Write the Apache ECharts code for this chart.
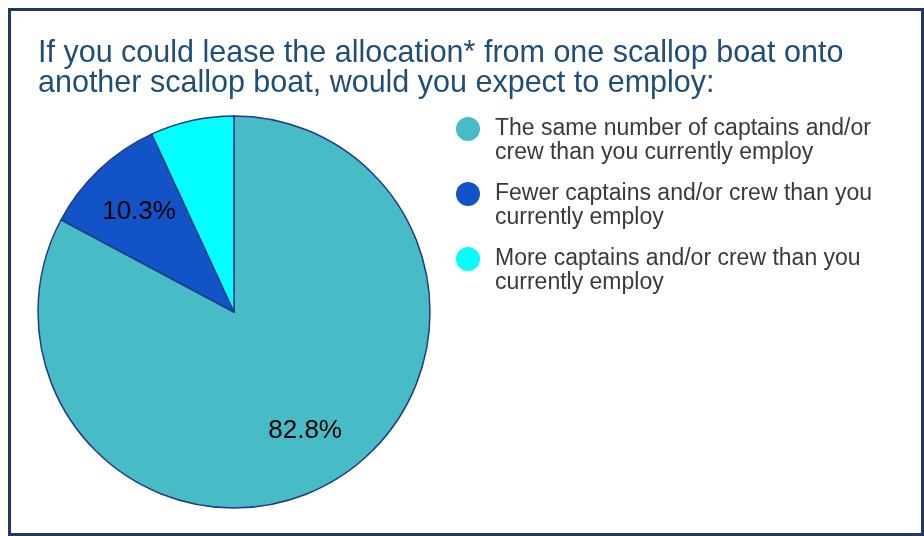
<!DOCTYPE html>
<html>
<head>
<meta charset="utf-8">
<script src="https://cdn.jsdelivr.net/npm/echarts@6/dist/echarts.min.js"></script>
<style>
  html, body { margin: 0; padding: 0; background: #ffffff; }
  #chart { width: 924px; height: 536px; }
</style>
</head>
<body>
<div id="chart"></div>
<script>
const titleText = 'If you could lease the allocation* from one scallop boat onto\nanother scallop boat, would you expect to employ:';
const categories = [
  'The same number of captains and/or crew than you currently employ',
  'Fewer captains and/or crew than you currently employ',
  'More captains and/or crew than you currently employ'
];
const values = [82.8, 10.3, 6.9];
const showLabel = [true, true, false];
const colors = ['#47BCC6', '#1254C8', '#00FFFF'];

const pieRadius = 196;
const labelShift = 0.19 * pieRadius;
const total = values.reduce((a, b) => a + b, 0);
const midAngles = [];
let acc = 0;
values.forEach(v => { midAngles.push((acc + v / 2) / total * 2 * Math.PI); acc += v; });

const chart = echarts.init(document.getElementById('chart'), null, { renderer: 'canvas' });
chart.setOption({
  backgroundColor: '#ffffff',
  animation: false,
  title: {
    text: titleText,
    left: 38,
    top: 39,
    padding: 0,
    textStyle: {
      fontFamily: 'Liberation Sans, Arial, sans-serif',
      fontSize: 30.5,
      fontWeight: 'normal',
      lineHeight: 30,
      color: '#1F4E79'
    }
  },
  legend: {
    orient: 'vertical',
    left: 456,
    top: 93,
    padding: 0,
    itemGap: -7,
    icon: 'circle',
    itemWidth: 24,
    itemHeight: 24,
    itemStyle: { borderWidth: 0 },
    data: categories,
    formatter: name => '\n' + name,
    textStyle: {
      fontFamily: 'Liberation Sans, Arial, sans-serif',
      fontSize: 23,
      lineHeight: 24,
      color: '#3A3A3A',
      width: 395,
      overflow: 'break',
      padding: [0, 0, 0, 10]
    }
  },
  graphic: [{
    type: 'rect',
    shape: { x: 9.5, y: 9.5, width: 913, height: 525 },
    style: { fill: null, stroke: '#1F3864', lineWidth: 3 },
    silent: true,
    z: 100
  }],
  series: [{
    type: 'pie',
    center: [234, 312],
    radius: [0, pieRadius],
    startAngle: 90,
    clockwise: true,
    data: categories.map((name, i) => ({
      name: name,
      value: values[i],
      itemStyle: { color: colors[i] },
      label: { show: showLabel[i] }
    })),
    itemStyle: { borderColor: '#1F3C88', borderWidth: 1.5 },
    label: {
      position: 'inside',
      formatter: p => p.value.toFixed(1) + '%',
      fontFamily: 'Liberation Sans, Arial, sans-serif',
      fontSize: 26,
      color: '#000000'
    },
    labelLine: { show: false },
    labelLayout: function (params) {
      const a = midAngles[params.dataIndex];
      return { dx: labelShift * Math.sin(a), dy: -labelShift * Math.cos(a) };
    },
    emphasis: { disabled: true }
  }]
});
</script>
</body>
</html>
